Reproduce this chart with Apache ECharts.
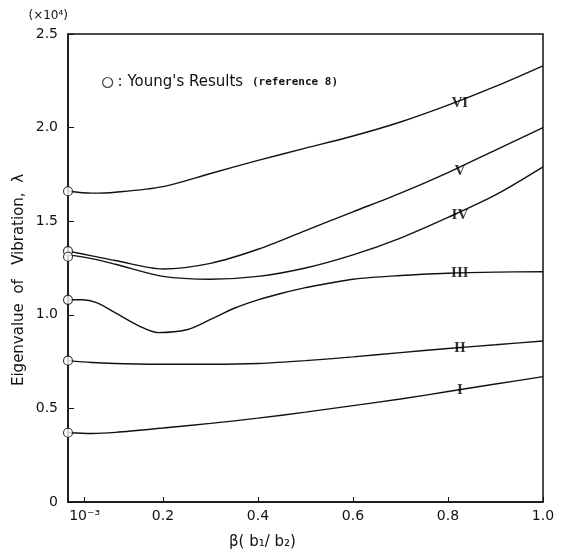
<!DOCTYPE html>
<html>
<head>
<meta charset="utf-8">
<script src="https://cdn.jsdelivr.net/npm/echarts@6/dist/echarts.min.js"></script>
<style>
  html, body { margin: 0; padding: 0; background: #fff; }
  #main { width: 564px; height: 560px; }
</style>
</head>
<body>
<div id="main"></div>
<script>
// beta values (x) and eigenvalues (x10^4) for each mode
var xI   = [0, 0.05, 0.1, 0.2, 0.3, 0.4, 0.5, 0.6, 0.7, 0.8, 0.9, 1.0];
var modeI  = [0.37, 0.366, 0.372, 0.395, 0.42, 0.448, 0.48, 0.515, 0.55, 0.59, 0.63, 0.67];
var modeII = [0.755, 0.745, 0.74, 0.736, 0.736, 0.74, 0.755, 0.775, 0.798, 0.82, 0.84, 0.86];

var xIII    = [0, 0.03, 0.06, 0.1, 0.15, 0.19, 0.25, 0.3, 0.35, 0.4, 0.45, 0.5, 0.6, 0.7, 0.8, 0.9, 1.0];
var modeIII = [1.08, 1.08, 1.065, 1.01, 0.94, 0.905, 0.92, 0.975, 1.035, 1.08, 1.115, 1.145, 1.19, 1.21, 1.222, 1.228, 1.23];

var xHi    = [0, 0.05, 0.1, 0.2, 0.3, 0.4, 0.5, 0.6, 0.7, 0.8, 0.9, 1.0];
var modeIV = [1.32, 1.30, 1.27, 1.205, 1.19, 1.205, 1.25, 1.32, 1.41, 1.52, 1.64, 1.79];
var modeV  = [1.34, 1.315, 1.29, 1.245, 1.275, 1.35, 1.45, 1.55, 1.65, 1.76, 1.88, 2.00];
var modeVI = [1.66, 1.65, 1.655, 1.685, 1.755, 1.825, 1.89, 1.955, 2.03, 2.12, 2.22, 2.33];

// Young's results at beta = 1e-3
var youngY = [1.66, 1.34, 1.31, 1.08, 0.755, 0.37];

// curve tags
var tagNames = ['VI', 'V', 'IV', 'III', 'II', 'I'];
var tagX = 0.825;
var tagY = [2.13, 1.77, 1.53, 1.225, 0.82, 0.595];

var xTicks = [0.035, 0.2, 0.4, 0.6, 0.8, 1.0];

function pairs(xs, ys) {
  return xs.map(function (x, i) { return [x, ys[i]]; });
}

var dom = document.getElementById('main');
var myChart = echarts.init(dom);

function curve(name, xs, ys) {
  return {
    name: name,
    type: 'line',
    smooth: 0.3,
    symbol: 'none',
    clip: false,
    lineStyle: { color: '#111', width: 1.4 },
    data: pairs(xs, ys),
    z: 2
  };
}

var option = {
  backgroundColor: '#fff',
  animation: false,
  textStyle: { fontFamily: 'DejaVu Sans', color: '#111' },
  grid: {
    left: 68, right: 21, top: 34, bottom: 58,
    show: true, borderColor: '#111', borderWidth: 1.5
  },
  legend: {
    left: 97, top: 70,
    icon: 'circle',
    itemWidth: 10, itemHeight: 10,
    itemGap: 4,
    data: ['Young'],
    itemStyle: { color: '#fff', borderColor: '#111', borderWidth: 1.2 },
    formatter: function () {
      return ": Young's Results {r|(reference 8)}";
    },
    textStyle: {
      fontSize: 15, color: '#111', fontFamily: 'DejaVu Sans',
      rich: {
        r: { fontSize: 11, fontWeight: 'bold', fontFamily: 'DejaVu Sans Mono', color: '#111', padding: [0, 0, 0, 4] }
      }
    }
  },
  xAxis: {
    type: 'value',
    min: 0, max: 1.0, interval: 0.2,
    name: 'β( b₁/ b₂)',
    nameLocation: 'middle',
    nameGap: 33,
    nameTextStyle: { fontSize: 15, color: '#111', padding: [0, 86, 0, 0] },
    axisLine: { lineStyle: { color: '#111', width: 1.5 } },
    axisTick: { inside: true, length: 5, lineStyle: { color: '#111' }, customValues: xTicks },
    axisLabel: {
      fontSize: 14, color: '#111', margin: 7,
      customValues: xTicks,
      formatter: function (v) { return v < 0.1 ? '10⁻³' : v.toFixed(1); }
    },
    splitLine: { show: false }
  },
  yAxis: {
    type: 'value',
    min: 0, max: 2.5, interval: 0.5,
    name: '(×10⁴)',
    nameLocation: 'end',
    nameGap: 12,
    nameTextStyle: { fontSize: 12, color: '#111', align: 'right' },
    axisLine: { show: true, lineStyle: { color: '#111', width: 1.5 } },
    axisTick: { show: true, inside: true, length: 6, lineStyle: { color: '#111' } },
    axisLabel: {
      fontSize: 14, color: '#111', margin: 10,
      formatter: function (v) { return v === 0 ? '0' : v.toFixed(1); }
    },
    splitLine: { show: false }
  },
  graphic: [{
    type: 'text',
    left: 12,
    top: 'middle',
    rotation: Math.PI / 2,
    style: {
      text: 'Eigenvalue  of   Vibration,  λ',
      font: '15px "DejaVu Sans"',
      fill: '#111'
    }
  }],
  series: [
    curve('I', xI, modeI),
    curve('II', xI, modeII),
    curve('III', xIII, modeIII),
    curve('IV', xHi, modeIV),
    curve('V', xHi, modeV),
    curve('VI', xHi, modeVI),
    {
      name: 'Young',
      type: 'scatter',
      symbol: 'circle',
      symbolSize: 9,
      clip: false,
      itemStyle: { color: '#fff', borderColor: '#111', borderWidth: 1.2 },
      data: youngY.map(function (y) { return [0, y]; }),
      z: 5
    },
    {
      name: 'tags',
      type: 'scatter',
      symbol: 'rect',
      symbolSize: 2,
      itemStyle: { color: 'rgba(0,0,0,0)' },
      silent: true,
      data: tagY.map(function (y, i) {
        return { value: [tagX, y], name: tagNames[i] };
      }),
      label: {
        show: true,
        position: 'inside',
        formatter: function (p) { return p.name; },
        fontFamily: 'Liberation Serif',
        fontWeight: 'bold',
        fontSize: 15,
        color: '#000'
      },
      labelLayout: { hideOverlap: false },
      z: 4
    }
  ]
};

if (option && typeof option === 'object') {
  myChart.setOption(option, true);
}
window.addEventListener('resize', function () { myChart.resize(); });
</script>
</body>
</html>
